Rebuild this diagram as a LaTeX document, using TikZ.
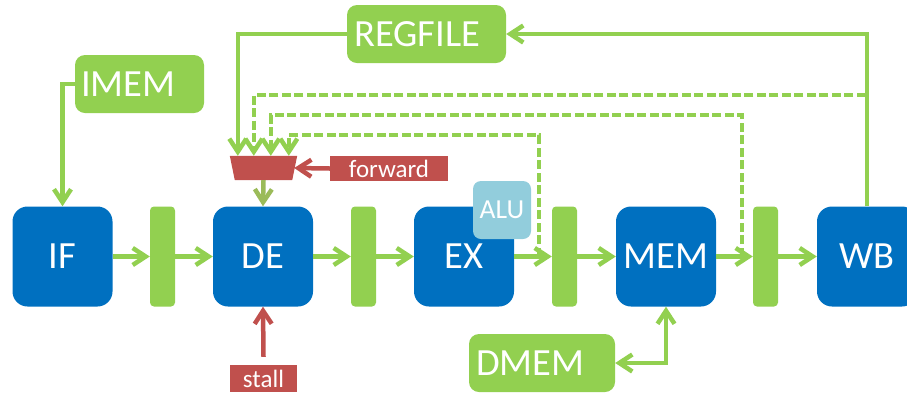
\documentclass[tikz,border=0pt]{standalone}
\usepackage{fontspec}
\setmainfont{Carlito}
\usetikzlibrary{arrows.meta,calc}

\definecolor{stageblue}{HTML}{0070C0}
\definecolor{busgreen}{HTML}{92D050}
\definecolor{muxgreen}{HTML}{9BBB59}
\definecolor{ctrlred}{HTML}{C0504D}
\definecolor{alublue}{HTML}{92CDDC}

\begin{document}
\begin{tikzpicture}[x=1pt,y=-1pt,
  >={Straight Barb[length=13pt,width=17pt]},
  stage/.style={fill=stageblue, rounded corners=15pt, minimum width=100pt,
    minimum height=100pt, inner sep=0pt, text=white,
    font=\fontsize{38.5}{40}\selectfont},
  latch/.style={fill=busgreen, rounded corners=4pt, minimum width=25pt,
    minimum height=100pt, inner sep=0pt},
  unitbox/.style={fill=busgreen, rounded corners=10pt, inner sep=0pt},
  unitlabel/.style={anchor=west, inner sep=0pt, text=white,
    font=\fontsize{38.5}{40}\selectfont},
  ctrlbox/.style={fill=ctrlred, inner sep=0pt, text=white,
    font=\fontsize{25}{27}\selectfont},
  bus/.style={draw=busgreen, line width=4.5pt, ->},
  fwd/.style={bus, dash pattern=on 9pt off 3.5pt},
  ctrl/.style={draw=ctrlred, line width=4.5pt, ->},
]
\useasboundingbox (0,0) rectangle (907,392);
\clip (0,0) rectangle (907,392);

% pipeline stages and latches
\node[stage] (ifs) at (62.5,256.5) {IF};
\node[latch] (l1) at (162.5,256.5) {};
\node[stage] (de) at (263,256.5) {DE};
\node[latch] (l2) at (363.5,256.5) {};
\node[stage] (ex) at (464,256.5) {EX};
\node[latch] (l3) at (564.5,256.5) {};
\node[stage] (mem) at (666,256.5) {MEM};
\node[latch] (l4) at (765.5,256.5) {};
\node[stage] (wb) at (867,256.5) {WB};

% ALU sits on the corner of EX
\node[fill=alublue, rounded corners=8pt, minimum width=58pt, minimum height=58pt,
  inner sep=0pt, text=white, font=\fontsize{27.5}{29}\selectfont] (alu) at (502,210) {ALU};

% memories and register file
\node[unitbox, minimum width=129pt, minimum height=58pt] (imem) at (139.5,84) {};
\node[unitlabel] at (81,84) {IMEM};
\node[unitbox, minimum width=159pt, minimum height=58pt] (regfile) at (426.5,34) {};
\node[unitlabel] at (354,34) {REGFILE};
\node[unitbox, minimum width=146pt, minimum height=58pt] (dmem) at (542,363) {};
\node[unitlabel] at (476,363) {DMEM};

% operand mux in front of DE
\node[minimum width=67pt, minimum height=24pt, inner sep=0pt] (mux) at (263.5,168) {};
\fill[ctrlred] (mux.north west) -- (mux.north east) -- ([xshift=-5pt]mux.south east)
  -- ([xshift=5pt]mux.south west) -- cycle;
\coordinate (in1) at ($(mux.north west)+(8,0)$);
\coordinate (in2) at ($(mux.north west)+(24,0)$);
\coordinate (in3) at ($(mux.north west)+(41,0)$);
\coordinate (in4) at ($(mux.north west)+(59,0)$);

% control signals
\node[ctrlbox, minimum width=118pt, minimum height=25pt] (forward) at (389,168.5) {forward};
\node[ctrlbox, minimum width=67pt, minimum height=27pt] (stall) at (263.5,378.5) {stall};

% forwarding taps on the EX and MEM outputs
\coordinate (tapex) at (539,256.5);
\coordinate (tapmem) at (742,256.5);

% datapath
\draw[bus] (ifs.east) -- (l1.west);
\draw[bus] (l1.east) -- (de.west);
\draw[bus] (de.east) -- (l2.west);
\draw[bus] (l2.east) -- (ex.west);
\draw[bus] (ex.east) -- (l3.west);
\draw[bus] (l3.east) -- (mem.west);
\draw[bus] (mem.east) -- (l4.west);
\draw[bus] (l4.east) -- (wb.west);

\draw[bus] (imem.west) -| (ifs.north);
\draw[bus] (wb.north) |- (regfile.east);
\draw[bus] (regfile.west) -| (in1);
\draw[bus, <->] (dmem.east) -| (mem.south);

% forwarding paths
\draw[fwd] (wb.north) |- (in2 |- 0,95) -- (in2);
\draw[fwd] (tapmem) |- (in3 |- 0,115) -- (in3);
\draw[fwd] (tapex) |- (in4 |- 0,135) -- (in4);

\draw[bus, draw=muxgreen] (mux.south) -- (de.north);
\draw[ctrl] (forward.west) -- ([xshift=-3pt]mux.east);
\draw[ctrl] ([yshift=8pt]stall.north) -- (de.south);
\end{tikzpicture}
\end{document}
